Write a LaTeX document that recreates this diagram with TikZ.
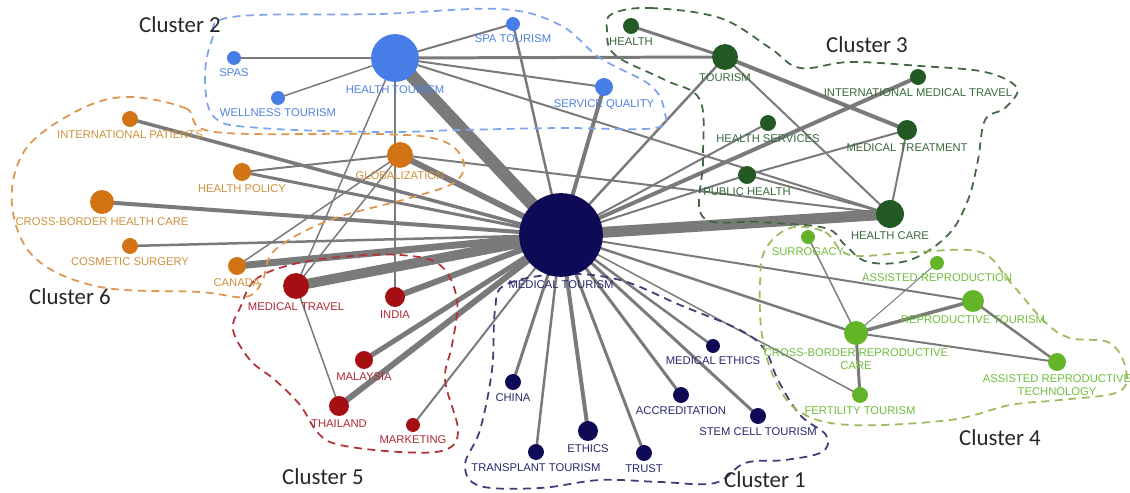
\documentclass[tikz,border=0pt]{standalone}
\usepackage{fontspec}
\newfontfamily\lblfont{Liberation Sans}
\newfontfamily\clfont{Carlito}
\usetikzlibrary{backgrounds}

\definecolor{cnavy}{RGB}{15,10,85}
\definecolor{tnavy}{RGB}{40,40,110}
\definecolor{cblue}{RGB}{70,125,230}
\definecolor{tblue}{RGB}{80,130,225}
\definecolor{cdgreen}{RGB}{35,90,35}
\definecolor{tdgreen}{RGB}{55,105,60}
\definecolor{clgreen}{RGB}{100,180,40}
\definecolor{tlgreen}{RGB}{110,190,60}
\definecolor{cred}{RGB}{165,15,20}
\definecolor{tred}{RGB}{175,40,55}
\definecolor{corange}{RGB}{210,115,20}
\definecolor{torange}{RGB}{205,145,60}
\definecolor{linkgrey}{RGB}{122,122,122}

\tikzset{
  kw/.style={circle, inner sep=0pt, minimum size=#1*1.134pt},
  lbl/.style={font=\lblfont\fontsize{6.4}{7}\selectfont, inner sep=0.5pt, align=center},
  link/.style={draw=linkgrey},
  hull/.style={dash pattern=on 4.5pt off 3.2pt, line width=1pt},
  clab/.style={font=\clfont\fontsize{13}{15}\selectfont, text=black!85}
}

\begin{document}
\begin{tikzpicture}[x=0.02cm, y=-0.02cm, label distance=1.4pt]
\useasboundingbox (0,0) rectangle (1130,493);

% cluster outlines
\draw[hull, draw=cblue!70] plot[smooth cycle, tension=0.6] coordinates {(232,17) (380,14) (500,9) (560,25) (600,58) (650,85) (664,110) (655,128) (560,128) (460,130) (380,132) (260,128) (215,118) (205,80) (212,40)};
\draw[hull, draw=corange!75] plot[smooth cycle, tension=0.6] coordinates {(125,97) (185,108) (215,132) (380,134) (440,140) (463,160) (455,182) (410,198) (330,220) (275,250) (262,282) (245,297) (200,292) (100,287) (35,258) (12,205) (25,150) (75,112)};
\draw[hull, draw=cred!85] plot[smooth cycle, tension=0.6] coordinates {(240,308) (255,280) (290,265) (340,257) (400,255) (440,265) (457,300) (452,345) (445,380) (458,430) (445,450) (400,452) (340,445) (318,433) (300,405) (275,380) (250,360) (233,330)};
\draw[hull, draw=cnavy!80] plot[smooth cycle, tension=0.6] coordinates {(505,285) (560,274) (620,280) (680,305) (740,330) (765,350) (778,380) (800,415) (826,435) (822,452) (785,460) (745,463) (715,483) (660,482) (600,480) (540,488) (480,486) (465,465) (480,430) (492,370) (495,310)};
\draw[hull, draw=cdgreen!65!gray] plot[smooth cycle, tension=0.6] coordinates {(612,14) (650,8) (720,18) (770,48) (800,68) (850,62) (920,66) (985,72) (1017,88) (1005,108) (985,120) (978,160) (968,200) (948,235) (910,260) (868,262) (845,245) (825,228) (760,222) (703,217) (703,160) (700,100) (665,80) (615,55) (607,30)};
\draw[hull, draw=clgreen!60!olive!70] plot[smooth cycle, tension=0.6] coordinates {(790,228) (825,232) (850,255) (915,252) (980,252) (1010,282) (1045,322) (1070,338) (1110,343) (1126,370) (1118,392) (1060,400) (1010,405) (950,420) (850,425) (800,412) (775,380) (762,335) (760,285) (765,250)};

% cluster 1
\foreach \nm/\px/\py/\rad/\txt in {mt/561/235/42/MEDICAL TOURISM, medeth/713/346/7/MEDICAL ETHICS, china/513/382/8/CHINA, accr/681/395/8/ACCREDITATION, stem/758/416/8/STEM CELL TOURISM, ethics/588/431/10/ETHICS, transp/536/452/8/TRANSPLANT TOURISM, trust/644/453/8/TRUST}
  \node[kw=\rad, fill=cnavy, label={[lbl, text=tnavy]below:\txt}] (\nm) at (\px,\py) {};

% cluster 2
\foreach \nm/\px/\py/\rad/\txt in {ht/395/58/24/HEALTH TOURISM, spas/234/58/7/SPAS, spatour/513/24/7/SPA TOURISM, well/278/98/7/WELLNESS TOURISM, sq/604/87/9/SERVICE QUALITY}
  \node[kw=\rad, fill=cblue, label={[lbl, text=tblue]below:\txt}] (\nm) at (\px,\py) {};

% cluster 3
\foreach \nm/\px/\py/\rad/\txt in {health/631/26/8/HEALTH, tourism/725/57/13/TOURISM, imt/918/77/8/INTERNATIONAL MEDICAL TRAVEL, hserv/768/123/8/HEALTH SERVICES, medtreat/907/130/10/MEDICAL TREATMENT, pubh/747/175/9/PUBLIC HEALTH, hcare/890/214/14/HEALTH CARE}
  \node[kw=\rad, fill=cdgreen, label={[lbl, text=tdgreen]below:\txt}] (\nm) at (\px,\py) {};

% cluster 4
\foreach \nm/\px/\py/\rad/\txt in {surro/808/237/7/SURROGACY, asrep/937/263/7/ASSISTED REPRODUCTION, reptour/973/301/11/REPRODUCTIVE TOURISM, cbrc/856/333/12/{CROSS-BORDER REPRODUCTIVE\\CARE}, fert/860/395/8/FERTILITY TOURISM, art/1057/362/9/{ASSISTED REPRODUCTIVE\\TECHNOLOGY}}
  \node[kw=\rad, fill=clgreen, label={[lbl, text=tlgreen]below:\txt}] (\nm) at (\px,\py) {};

% cluster 5
\foreach \nm/\px/\py/\rad/\txt in {medtrav/296/286/13/MEDICAL TRAVEL, india/395/297/10/INDIA, malay/364/360/9/MALAYSIA, thai/339/406/10/THAILAND, mark/413/425/7/MARKETING}
  \node[kw=\rad, fill=cred, label={[lbl, text=tred]below:\txt}] (\nm) at (\px,\py) {};

% cluster 6
\foreach \nm/\px/\py/\rad/\txt in {intpat/130/119/8/INTERNATIONAL PATIENTS, hpol/242/172/9/HEALTH POLICY, glob/400/155/13/GLOBALIZATION, cbhc/102/202/12/CROSS-BORDER HEALTH CARE, cosm/130/246/8/COSMETIC SURGERY, canada/237/266/9/CANADA}
  \node[kw=\rad, fill=corange, label={[lbl, text=torange]below:\txt}] (\nm) at (\px,\py) {};

% links (width in px)
\begin{scope}[on background layer]
\foreach \a/\b/\w in {mt/ht/13, mt/hcare/11, mt/medtrav/10, mt/canada/7, mt/glob/6, mt/india/6, mt/malay/5, mt/thai/6, mt/mark/2, mt/intpat/3.5, mt/hpol/3, mt/cbhc/4, mt/cosm/2.5, mt/china/3, mt/transp/2.5, mt/ethics/4, mt/trust/3, mt/accr/3, mt/stem/3, mt/medeth/2.5, mt/spatour/2.5, mt/sq/4, mt/tourism/2.5, mt/imt/4, mt/hserv/2, mt/pubh/2, mt/reptour/2, mt/cbrc/2.5, mt/fert/1.5,
    ht/spas/3, ht/well/1.5, ht/spatour/2, ht/tourism/3, ht/sq/2, ht/hcare/2, ht/india/1.5, ht/medtrav/1.5,
    glob/medtrav/1.5, glob/canada/1.5, glob/hpol/2, glob/hcare/2,
    health/tourism/3, tourism/medtreat/4, tourism/hcare/2, medtreat/hcare/2, pubh/medtreat/2, pubh/hcare/2,
    surro/cbrc/1.5, asrep/cbrc/1, reptour/cbrc/3.5, reptour/art/2.5, cbrc/art/2, cbrc/fert/3,
    medtrav/thai/1.5}
  \draw[link, line width=\w*0.567pt] (\a.center) -- (\b.center);
\end{scope}

% cluster names
\node[clab] (c1) at (765,480) {Cluster 1};
\node[clab] (c2) at (180,25) {Cluster 2};
\node[clab] (c3) at (867,45) {Cluster 3};
\node[clab] (c4) at (1000,438) {Cluster 4};
\node[clab] (c5) at (323,477) {Cluster 5};
\node[clab] (c6) at (70,297) {Cluster 6};
\end{tikzpicture}
\end{document}
